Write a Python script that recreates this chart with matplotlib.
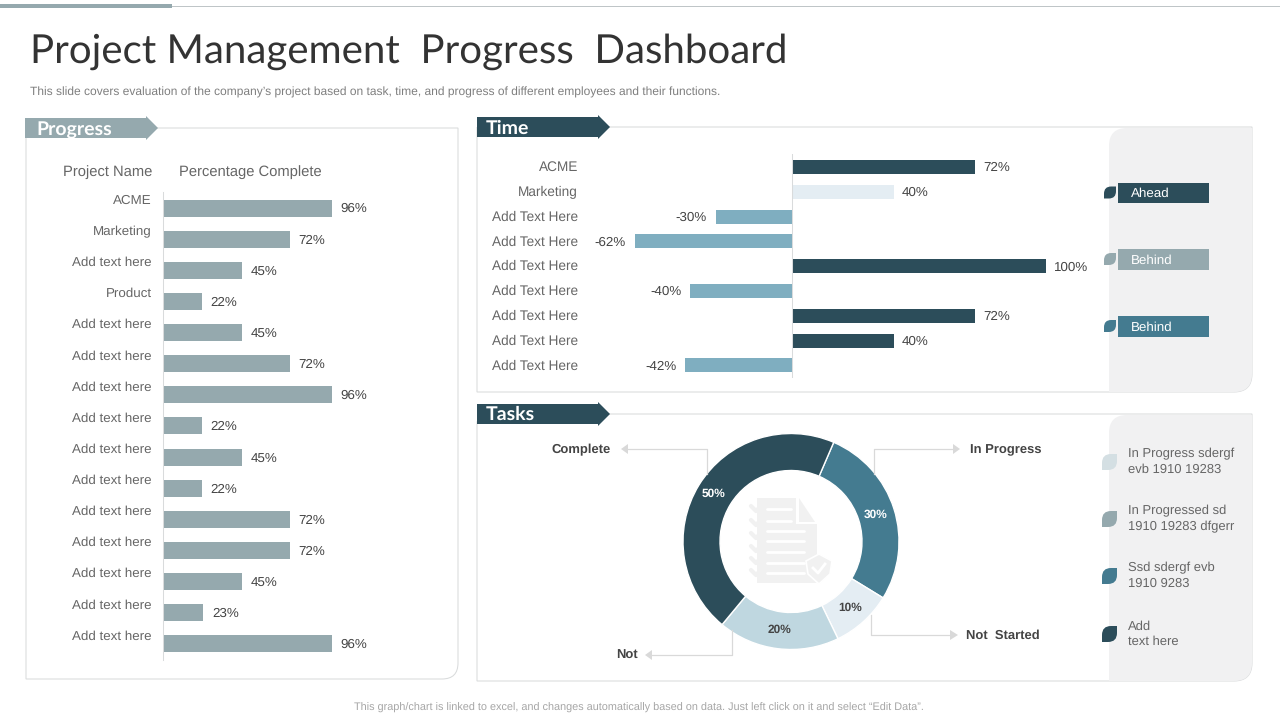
import matplotlib
matplotlib.use("Agg")
import matplotlib.pyplot as plt
from matplotlib.patches import PathPatch, Polygon, Rectangle
from matplotlib.path import Path

# data
progress_names = ["ACME", "Marketing", "Add text here", "Product", "Add text here", "Add text here",
                  "Add text here", "Add text here", "Add text here", "Add text here", "Add text here",
                  "Add text here", "Add text here", "Add text here", "Add text here"]
progress_values = [96, 72, 45, 22, 45, 72, 96, 22, 45, 22, 72, 72, 45, 23, 96]

time_names = ["ACME", "Marketing", "Add Text Here", "Add Text Here", "Add Text Here",
              "Add Text Here", "Add Text Here", "Add Text Here", "Add Text Here"]
time_values = [72, 40, -30, -62, 100, -40, 72, 40, -42]

status_labels = ["Ahead", "Behind", "Behind"]

task_values = [30, 10, 20, 50]
task_names = ["In Progress", "Not  Started", "Not", "Complete"]
legend_texts = ["In Progress sdergf\nevb 1910 19283", "In Progressed sd\n1910 19283 dfgerr",
                "Ssd sdergf evb\n1910 9283", "Add\ntext here"]

DARK = "#2C4D5A"
GREY = "#95A9AE"
BLUE = "#7FAEC0"
PALE = "#E4EDF3"
MID = "#447B90"
LINE = "#D9DBDC"
PANEL = "#F1F1F2"
TEXT = "#666666"
VALUE = "#444444"

plt.rcParams["font.family"] = ["Liberation Sans", "DejaVu Sans"]
plt.rcParams["text.hinting"] = "no_hinting"

W, H = 1280, 720
fig = plt.figure(figsize=(12.8, 7.2), dpi=100, facecolor="white")

# pixel overlay for the slide furniture
bg = fig.add_axes([0, 0, 1, 1])
bg.set_xlim(0, W)
bg.set_ylim(H, 0)
bg.axis("off")


def px_axes(x0, y0, x1, y1):
    return fig.add_axes([x0 / W, 1 - y1 / H, (x1 - x0) / W, (y1 - y0) / H], facecolor="none")


def rounded(x0, y0, x1, y1, tl=0, tr=0, br=0, bl=0, **kw):
    verts = [(x0 + tl, y0), (x1 - tr, y0), (x1, y0), (x1, y0 + tr), (x1, y1 - br), (x1, y1), (x1 - br, y1),
             (x0 + bl, y1), (x0, y1), (x0, y1 - bl), (x0, y0 + tl), (x0, y0), (x0 + tl, y0)]
    codes = [Path.MOVETO, Path.LINETO, Path.CURVE3, Path.CURVE3, Path.LINETO, Path.CURVE3, Path.CURVE3,
             Path.LINETO, Path.CURVE3, Path.CURVE3, Path.LINETO, Path.CURVE3, Path.CURVE3]
    p = PathPatch(Path(verts, codes), **kw)
    bg.add_patch(p)
    return p


def header(x0, y0, x1, tip, label, color, tx, ty):
    ym = y0 + 10
    bg.add_patch(Polygon([(x0, y0), (x1, y0), (x1, y0 - 2), (tip, ym), (x1, y0 + 22), (x1, y0 + 20), (x0, y0 + 20)],
                         closed=True, fc=color, ec="none", zorder=4))
    bg.text(tx, ty, label, color="white", fontsize=14, fontweight="bold", family="Lato", va="center", zorder=5)


def leaf(x, y, w, h, color):
    rounded(x, y, x + w, y + h, tl=w * 0.6, br=w * 0.6, fc=color, ec="none", zorder=4)


# top rule
bg.add_patch(Rectangle((172, 6), W - 172, 1, fc="#BFC5C7", ec="none"))
bg.add_patch(Rectangle((0, 4), 172, 4, fc=GREY, ec="none"))

bg.text(30, 52, "Project Management  Progress  Dashboard", fontsize=29, family="Lato",
        color="#333333", va="center")
bg.text(30, 92, "This slide covers evaluation of the company\u2019s project based on task, time, and progress of different employees and their functions.",
        fontsize=8.68, color="#7F7F7F", va="center")
bg.text(639, 708, "This graph/chart is linked to excel, and changes automatically based on data. Just left click on it and select \u201cEdit Data\u201d.",
        fontsize=7.8, color="#A6A6A6", va="center", ha="center")

# panels
rounded(26, 128, 458, 679, br=16, fc="white", ec=LINE, lw=0.75)
rounded(477, 127, 1252, 392, br=18, fc="white", ec=LINE, lw=0.75)
rounded(1109, 128, 1252, 392, tl=18, br=18, fc=PANEL, ec="none")
rounded(477, 414, 1252, 681, tl=10, br=18, fc="white", ec=LINE, lw=0.75)
rounded(1109, 415, 1252, 681, tl=18, br=18, fc=PANEL, ec="none")

header(25, 118, 146, 158, "Progress", GREY, 36, 130)
header(477, 117, 598, 610, "Time", DARK, 486, 128)
header(477, 404, 598, 610, "Tasks", DARK, 486, 414)

# progress chart
px_per_pct = 1.76
row = 31.14
ax = px_axes(163, 192, 163 + 100 * px_per_pct, 660)
rows = list(range(len(progress_values)))
ax.barh(rows, progress_values, height=17 / row, color=GREY)
ax.set_xlim(0, 100)
ax.set_ylim((660 - 208) / row, (192 - 208) / row)
ax.set_xticks([])
ax.set_yticks([r - 0.29 for r in rows])
ax.set_yticklabels(progress_names, fontsize=9.6, color=TEXT)
ax.tick_params(axis="y", length=0, pad=8)
for s in ["top", "right", "bottom"]:
    ax.spines[s].set_visible(False)
ax.spines["left"].set_color(LINE)
ax.spines["left"].set_linewidth(0.75)
for r, v in zip(rows, progress_values):
    ax.annotate(f"{v}%", (v, r + 0.03), xytext=(6.2, 0), textcoords="offset points", va="center", fontsize=9.6, color=VALUE)
bg.text(152, 172, "Project Name", fontsize=10.6, color=TEXT, ha="right", va="center")
bg.text(179, 172, "Percentage Complete", fontsize=10.6, color=TEXT, va="center")

# time chart
px_per_pct = 2.54
row = 24.8
ax = px_axes(585, 154, 1100, 378)
rows = list(range(len(time_values)))
colors = [PALE if i == 1 else (DARK if v > 0 else BLUE) for i, v in enumerate(time_values)]
ax.barh(rows, time_values, height=14 / row, color=colors)
ax.set_xlim((585 - 792) / px_per_pct, (1100 - 792) / px_per_pct)
ax.set_ylim((378 - 167) / row, (154 - 167) / row)
ax.axvline(0, color=LINE, lw=0.75)
ax.set_xticks([])
ax.set_yticks([r - 0.04 for r in rows])
ax.set_yticklabels(time_names, fontsize=9.8, color=TEXT)
ax.tick_params(axis="y", length=0, pad=5)
for s in ax.spines.values():
    s.set_visible(False)
for r, v in zip(rows, time_values):
    if v > 0:
        ax.annotate(f"{v}%", (v, r + 0.04), xytext=(5.8, 0), textcoords="offset points", va="center", fontsize=9.6, color=VALUE)
    else:
        ax.annotate(f"{v}%", (v, r + 0.04), xytext=(-6.5, 0), textcoords="offset points", va="center", ha="right", fontsize=9.6, color=VALUE)

# status tags
for label, color, y0, y1 in zip(status_labels, [DARK, GREY, MID], [183, 249, 316], [203, 270, 337]):
    bg.add_patch(Rectangle((1118, y0), 91, y1 - y0, fc=color, ec="none", zorder=3))
    bg.text(1131, (y0 + y1) / 2 + 1, label, color="white", fontsize=9.6, va="center", zorder=4)
    leaf(1104, (y0 + y1) / 2 - 6.5, 12, 12, color)

# icon in the ring
ICON = "#F1F1F1"
bg.add_patch(Polygon([(757, 498), (796, 498), (796, 524), (817, 524), (817, 583), (757, 583)], fc=ICON, ec="none"))
bg.add_patch(Polygon([(799, 498), (815, 522), (799, 522)], fc=ICON, ec="none"))
for y, x1 in [(509, 791), (521, 791), (531, 804), (541, 804), (552, 804), (563, 804), (573, 804)]:
    bg.plot([767, x1], [y, y], color="white", lw=2, solid_capstyle="round")
for y in [508, 522, 535, 548, 560, 572]:
    bg.plot([751, 756, 763], [y - 2, y + 3, y - 4], color=ICON, lw=3, solid_capstyle="round")
bg.add_patch(Polygon([(806, 561), (819, 554), (832, 561), (830, 574), (819, 584), (808, 574)], fc=ICON, ec="white", lw=1.2))
bg.plot([813, 818, 825], [568, 573, 564], color="white", lw=2)

# donut
ax = px_axes(683, 433.5, 899, 649.5)
ax.pie(task_values, colors=[MID, PALE, "#BFD7E0", DARK], startangle=66.7, counterclock=False, radius=1,
       wedgeprops=dict(width=37 / 108, edgecolor="white", linewidth=1))
ax.set_xlim(-1, 1)
ax.set_ylim(-1, 1)

# text on top of the ring needs its own layer
top = fig.add_axes([0, 0, 1, 1], facecolor="none")
top.set_xlim(0, W)
top.set_ylim(H, 0)
top.axis("off")
label_colors = ["white", VALUE, VALUE, "white"]
for (lx, ly), v, c in zip([(876, 515), (850, 608), (779, 630), (714, 494)], task_values, label_colors):
    top.text(lx, ly, f"{v}%", color=c, fontsize=8.6, fontweight="bold", ha="center", va="center")

# leader lines
LEAD = "#D9D9D9"
for xs, ys, tri in [([874, 874, 953], [474, 449, 449], [(953, 444), (960, 449), (953, 454)]),
                    ([871, 871, 950], [615, 635, 635], [(950, 630), (958, 635), (950, 640)]),
                    ([732, 732, 652], [630, 655, 655], [(652, 650), (645, 655), (652, 660)]),
                    ([707, 707, 628], [474, 449, 449], [(628, 444), (621, 449), (628, 454)])]:
    top.plot(xs, ys, color=LEAD, lw=0.9)
    top.add_patch(Polygon(tri, fc=LEAD, ec="none"))
for t, lx, ly in zip(task_names, [970, 966, 616, 551], [450, 636, 656, 450]):
    top.text(lx, ly, t, fontsize=9.4, fontweight="bold", color=VALUE, va="center")

# tasks legend
for txt, color, y in zip(legend_texts, ["#D4DFE3", GREY, MID, DARK], [454, 511, 568, 626]):
    leaf(1102, y, 15, 16, color)
    bg.text(1128, y + 8, txt, fontsize=9.4, color=TEXT, va="center", linespacing=1.32)

fig.savefig("out.png", dpi=100)
